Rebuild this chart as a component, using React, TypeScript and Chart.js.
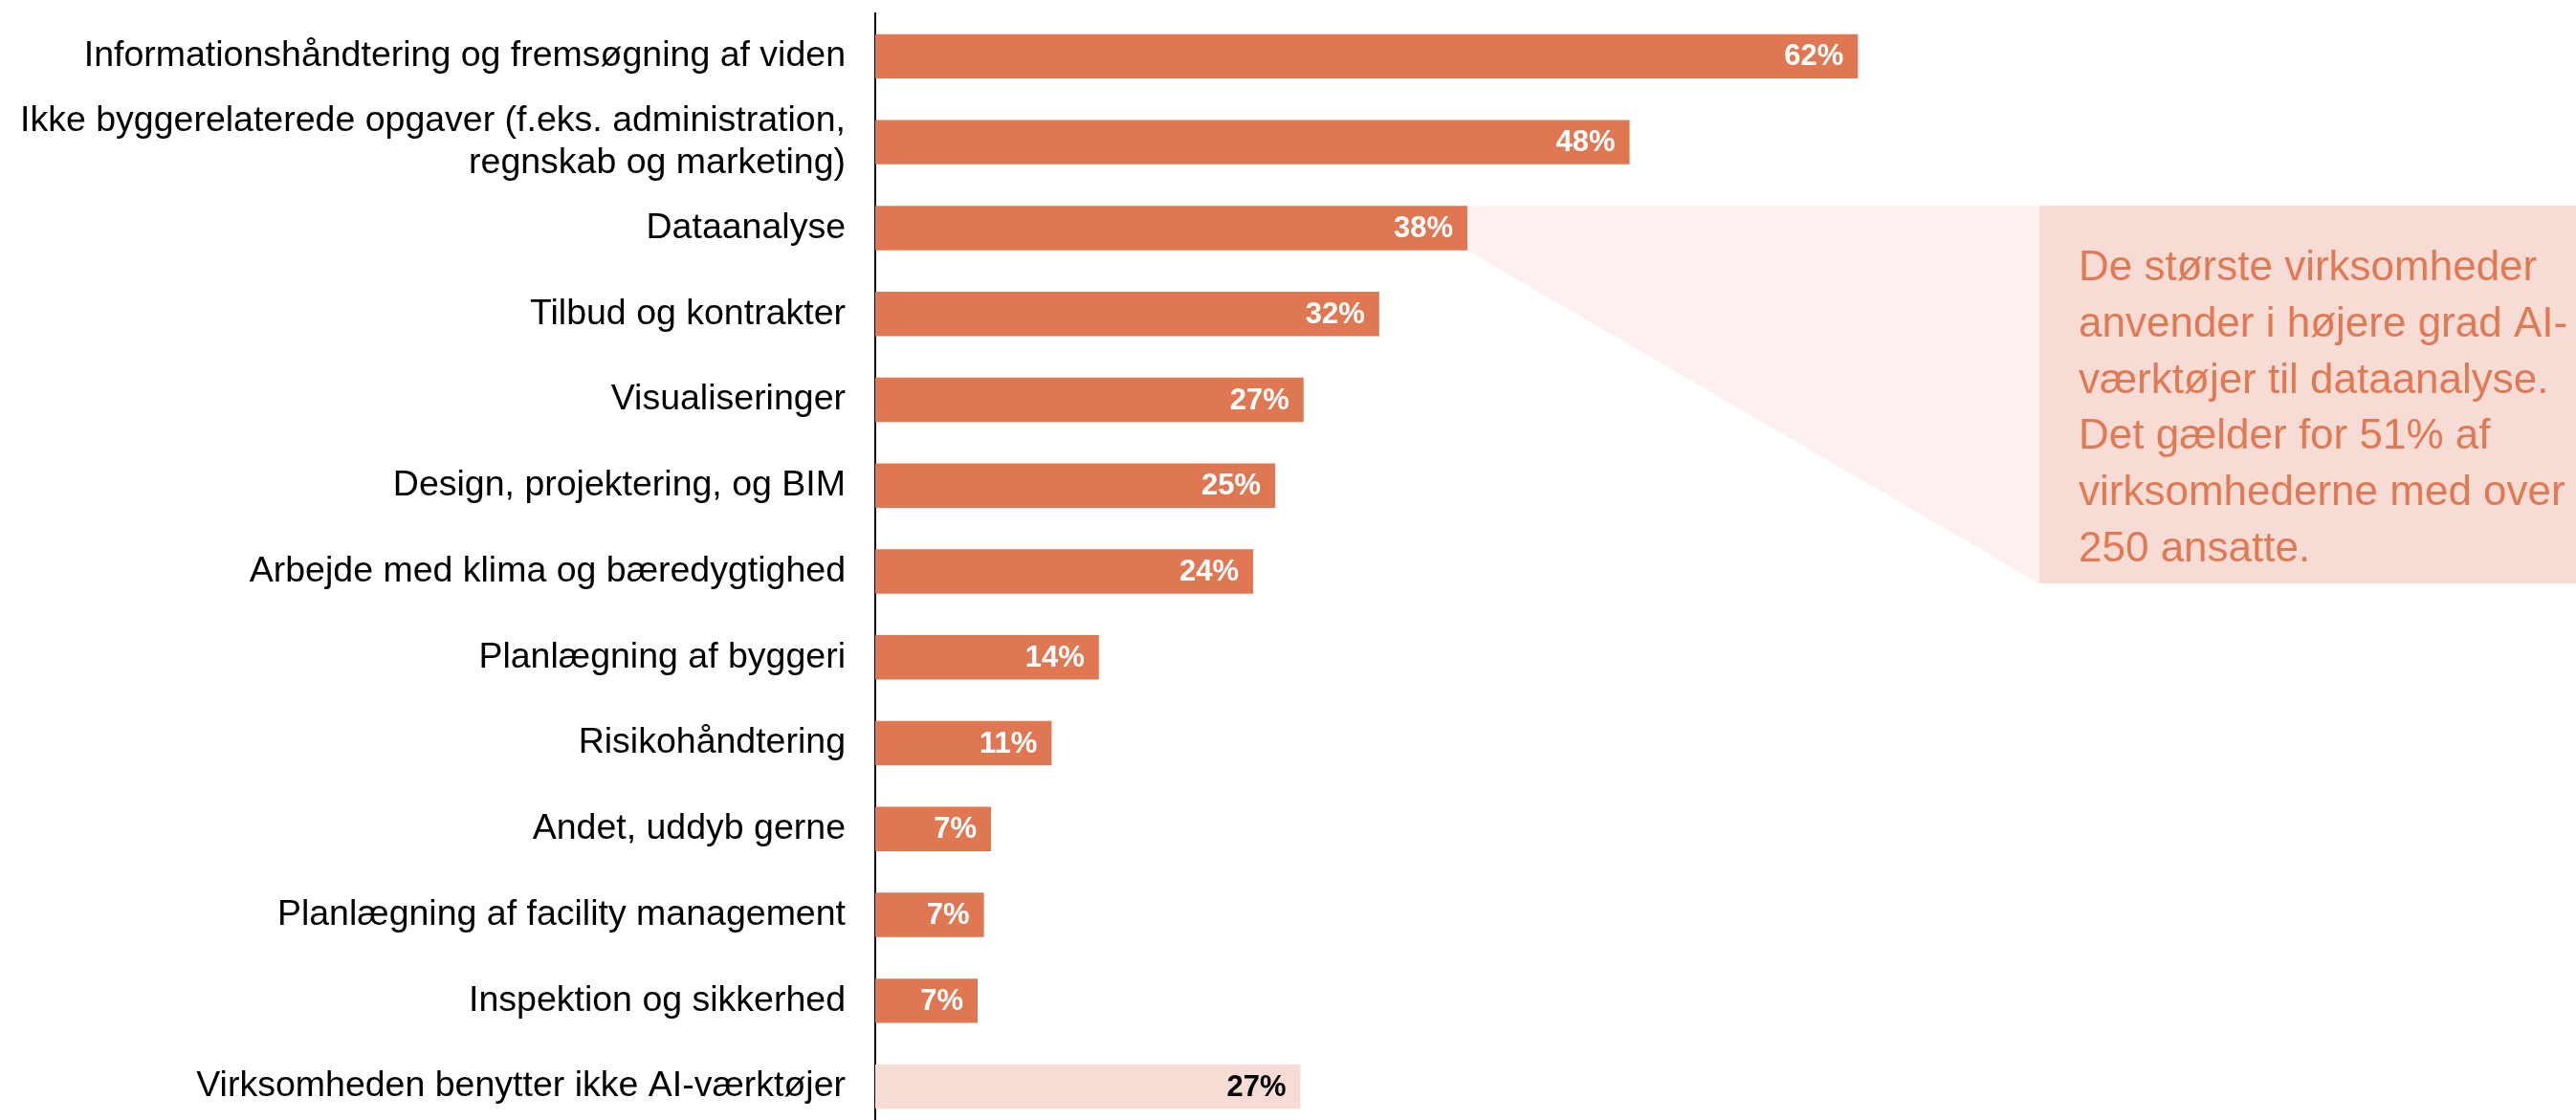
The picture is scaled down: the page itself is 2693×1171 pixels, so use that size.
import React, { useEffect, useRef } from "react";
import { Chart, registerables } from "chart.js";

Chart.register(...registerables);

const categories: (string | string[])[] = [
  "Informationshåndtering og fremsøgning af viden",
  ["Ikke byggerelaterede opgaver (f.eks. administration,", "regnskab og marketing)"],
  "Dataanalyse",
  "Tilbud og kontrakter",
  "Visualiseringer",
  "Design, projektering, og BIM",
  "Arbejde med klima og bæredygtighed",
  "Planlægning af byggeri",
  "Risikohåndtering",
  "Andet, uddyb gerne",
  "Planlægning af facility management",
  "Inspektion og sikkerhed",
  "Virksomheden benytter ikke AI-værktøjer",
];

const values = [62.4, 47.9, 37.6, 32.0, 27.2, 25.4, 24.0, 14.2, 11.2, 7.35, 6.9, 6.5, 27.0];

const MAIN = "#DF7752";
const PALE = "#F7DCD5";
const barColors = values.map((_, i) => (i === values.length - 1 ? PALE : MAIN));
const labelColors = values.map((_, i) => (i === values.length - 1 ? "#000000" : "#FFFFFF"));

const calloutIndex = 2;
const calloutLines = [
  "De største virksomheder",
  "anvender i højere grad AI-",
  "værktøjer til dataanalyse.",
  "Det gælder for 51% af",
  "virksomhederne med over",
  "250 ansatte.",
];

const FONT = "'Liberation Sans', Arial, Helvetica, sans-serif";

const W = 2693;
const H = 1183;

const annotatePlugin = {
  id: "annotate",
  beforeDatasetsDraw(chart: any) {
    const ctx = chart.ctx as CanvasRenderingContext2D;
    const meta = chart.getDatasetMeta(0);
    const bar = meta.data[calloutIndex] as any;
    const top = bar.y - bar.height / 2;
    const bottom = bar.y + bar.height / 2;
    const bx = bar.x;
    const boxLeft = 2132;
    const boxBottom = 610;
    ctx.save();
    ctx.fillStyle = "#FDF0EF";
    ctx.beginPath();
    ctx.moveTo(bx, top);
    ctx.lineTo(boxLeft, top);
    ctx.lineTo(boxLeft, boxBottom);
    ctx.lineTo(bx, bottom);
    ctx.closePath();
    ctx.fill();
    ctx.fillStyle = PALE;
    ctx.fillRect(boxLeft, top, chart.width - boxLeft, boxBottom - top);
    ctx.fillStyle = "#E07A55";
    ctx.font = `44px ${FONT}`;
    ctx.textAlign = "left";
    ctx.textBaseline = "middle";
    calloutLines.forEach((line, i) => {
      ctx.fillText(line, 2173, 281 + i * 58.7);
    });
    ctx.restore();
  },
  afterDatasetsDraw(chart: any) {
    const ctx = chart.ctx as CanvasRenderingContext2D;
    const meta = chart.getDatasetMeta(0);
    ctx.save();
    ctx.font = `bold 31px ${FONT}`;
    ctx.textAlign = "right";
    ctx.textBaseline = "middle";
    meta.data.forEach((el: any, i: number) => {
      ctx.fillStyle = labelColors[i];
      ctx.fillText(`${Math.round(values[i])}%`, el.x - 15, el.y + 1);
    });
    ctx.restore();
  },
};

export default function App() {
  const ref = useRef<HTMLCanvasElement | null>(null);
  useEffect(() => {
    if (!ref.current) return;
    const chart = new Chart(ref.current, {
      type: "bar",
      data: {
        labels: categories,
        datasets: [
          {
            data: values,
            backgroundColor: barColors,
            borderWidth: 0,
            barPercentage: 0.517,
            categoryPercentage: 1,
          },
        ],
      },
      options: {
        indexAxis: "y",
        animation: false,
        responsive: false,
        devicePixelRatio: 1,
        layout: { padding: { top: 14, bottom: 2, left: 0, right: 0 } },
        plugins: {
          legend: { display: false },
          tooltip: { enabled: false },
        },
        scales: {
          x: {
            display: false,
            min: 0,
            max: 108,
          },
          y: {
            grid: { display: false, drawTicks: false },
            border: { display: true, color: "#000000", width: 2 },
            ticks: {
              autoSkip: false,
              color: "#000000",
              padding: 31,
              font: { family: FONT, size: 37.5, lineHeight: 1.16 },
            },
            afterFit(scale: any) {
              scale.width = 915;
              scale.paddingTop = 0;
              scale.paddingBottom = 0;
            },
          },
        },
      },
      plugins: [annotatePlugin],
    } as any);
    return () => chart.destroy();
  }, []);
  return (
    <div
      style={{
        position: "fixed",
        left: 0,
        top: 0,
        width: W,
        height: 1171,
        overflow: "hidden",
        background: "#ffffff",
      }}
    >
      <canvas ref={ref} width={W} height={H} style={{ display: "block", width: W, height: H }} />
    </div>
  );
}
